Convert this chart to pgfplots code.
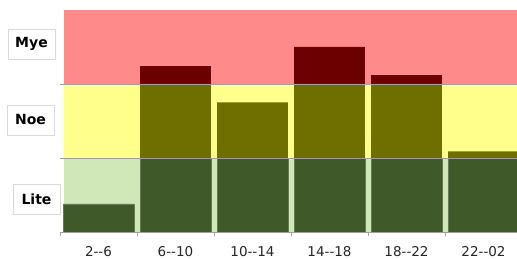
\documentclass[border=0pt]{standalone}
\usepackage{pgfplots}
\pgfplotsset{compat=1.18}
\usepackage{fontspec}
\setmainfont{DejaVu Sans}
\definecolor{bandR}{RGB}{255,138,138}
\definecolor{bandY}{RGB}{255,255,140}
\definecolor{bandG}{RGB}{208,232,184}
\definecolor{barR}{RGB}{108,0,0}
\definecolor{barY}{RGB}{111,111,0}
\definecolor{barG}{RGB}{64,89,40}
\pgfplotsset{common/.style={
  at={(60pt,27pt)}, anchor=south west,
  scale only axis, width=457pt, height=222pt,
  xmin=-0.5, xmax=5.435, ymin=0, ymax=3}}
\begin{document}
\begin{tikzpicture}
\begin{axis}[common, hide axis]
\fill[bandG] (axis cs:-0.45,0) rectangle (axis cs:5.435,1);
\fill[bandY] (axis cs:-0.45,1) rectangle (axis cs:5.435,2);
\fill[bandR] (axis cs:-0.45,2) rectangle (axis cs:5.435,3);
\end{axis}
\begin{axis}[
  common,
  axis on top,
  axis line style={draw=none},
  ytick=\empty,
  extra y ticks={0,1,2},
  extra y tick labels={},
  extra y tick style={grid=major, major tick length=0pt, major grid style={gray!75, line width=0.6pt}},
  xtick={0,1,2,3,4,5},
  xticklabels={{2-{}-6},{6-{}-10},{10-{}-14},{14-{}-18},{18-{}-22},{22-{}-02}},
  minor xtick={-0.5,0.5,1.5,2.5,3.5,4.5},
  xtick pos=lower,
  major tick length=0pt, minor tick length=4pt,
  tick align=outside,
  minor tick style={gray!70, line width=0.6pt},
  xticklabel style={font=\fontsize{13.5}{15}\selectfont, text=black!85, anchor=center, yshift=-20pt},
  ybar stacked, bar width=0.92,
]
\addplot[fill=barG, draw=barG!80!white, line width=0.5pt] coordinates {(0,0.38) (1,1) (2,1) (3,1) (4,1) (5,1)};
\addplot[fill=barY, draw=none] coordinates {(0,0) (1,1) (2,0.75) (3,1) (4,1) (5,0.09)};
\addplot[fill=barR, draw=none] coordinates {(0,0) (1,0.24) (2,0) (3,0.5) (4,0.12) (5,0)};
\end{axis}
\begin{scope}[every node/.style={draw=gray!30, fill=white, minimum width=47pt, minimum height=30pt, inner sep=0pt, font=\bfseries\fontsize{14}{16}\selectfont, text=black}]
\node at (31.5pt,215pt) {Mye};
\node at (30.5pt,139pt) {Noe};
\node at (36.5pt,60pt) {Lite};
\end{scope}
\pgfresetboundingbox
\path (0,0) rectangle (517pt,259pt);
\end{tikzpicture}
\end{document}
